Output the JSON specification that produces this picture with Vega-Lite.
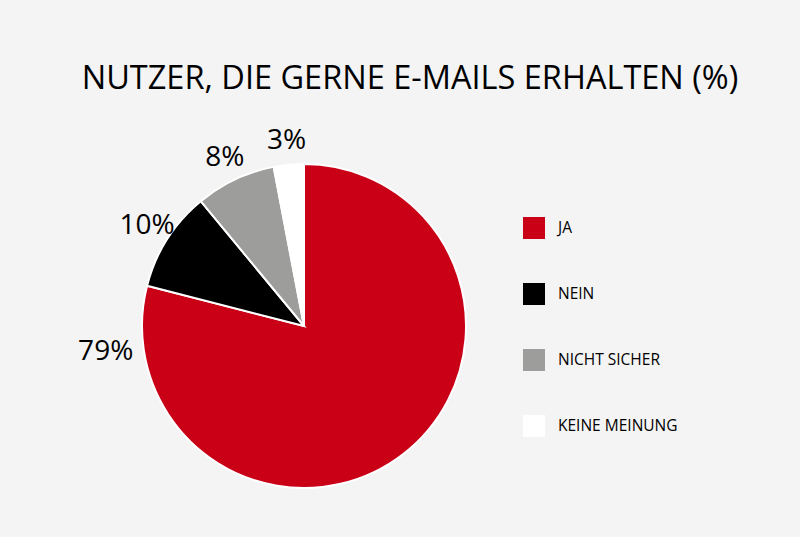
{
  "$schema": "https://vega.github.io/schema/vega-lite/v6.json",
  "width": 608,
  "height": 400,
  "autosize": {"type": "none"},
  "padding": {"left": 0, "top": 126, "right": 192, "bottom": 11},
  "background": "#f4f4f4",
  "title": {
    "text": "NUTZER, DIE GERNE E-MAILS ERHALTEN (%)",
    "font": "Open Sans",
    "fontSize": 32.5,
    "fontWeight": 400,
    "color": "#000000",
    "anchor": "middle",
    "dx": 106,
    "offset": 31
  },
  "config": {"view": {"stroke": null}},
  "data": {
    "values": [
      {"antwort": "JA", "prozent": 79, "label": "79%", "ord": 1},
      {"antwort": "NEIN", "prozent": 10, "label": "10%", "ord": 2},
      {"antwort": "NICHT SICHER", "prozent": 8, "label": "8%", "ord": 3},
      {"antwort": "KEINE MEINUNG", "prozent": 3, "label": "3%", "ord": 4}
    ]
  },
  "encoding": {
    "theta": {"field": "prozent", "type": "quantitative", "stack": true},
    "order": {"field": "ord", "type": "quantitative", "sort": "ascending"}
  },
  "layer": [
    {
      "mark": {"type": "arc", "outerRadius": 162, "stroke": "#ffffff", "strokeWidth": 2},
      "encoding": {
        "color": {
          "field": "antwort",
          "type": "nominal",
          "scale": {
            "domain": ["JA", "NEIN", "NICHT SICHER", "KEINE MEINUNG"],
            "range": ["#c90016", "#000000", "#9d9d9b", "#ffffff"]
          },
          "legend": {
            "title": null,
            "orient": "none",
            "legendX": 523,
            "legendY": 91,
            "padding": 0,
            "symbolType": "square",
            "symbolSize": 484,
            "symbolStrokeWidth": 0,
            "symbolOpacity": 1,
            "rowPadding": 44,
            "labelOffset": 13,
            "labelFont": "Open Sans",
            "labelFontSize": 15.5,
            "labelColor": "#000000",
            "labelLimit": 300
          }
        }
      }
    },
    {
      "mark": {"type": "text", "radius": 186, "font": "Open Sans", "fontSize": 28, "fontWeight": 400, "color": "#000000", "align": "center", "baseline": "middle"},
      "encoding": {
        "text": {"field": "label"},
        "opacity": {"condition": {"test": "datum.antwort === 'JA'", "value": 0}, "value": 1}
      }
    },
    {
      "mark": {"type": "text", "radius": 200, "thetaOffset": 2.1, "font": "Open Sans", "fontSize": 28, "fontWeight": 400, "color": "#000000", "align": "center", "baseline": "middle"},
      "encoding": {
        "text": {"field": "label"},
        "opacity": {"condition": {"test": "datum.antwort === 'JA'", "value": 1}, "value": 0}
      }
    }
  ]
}
